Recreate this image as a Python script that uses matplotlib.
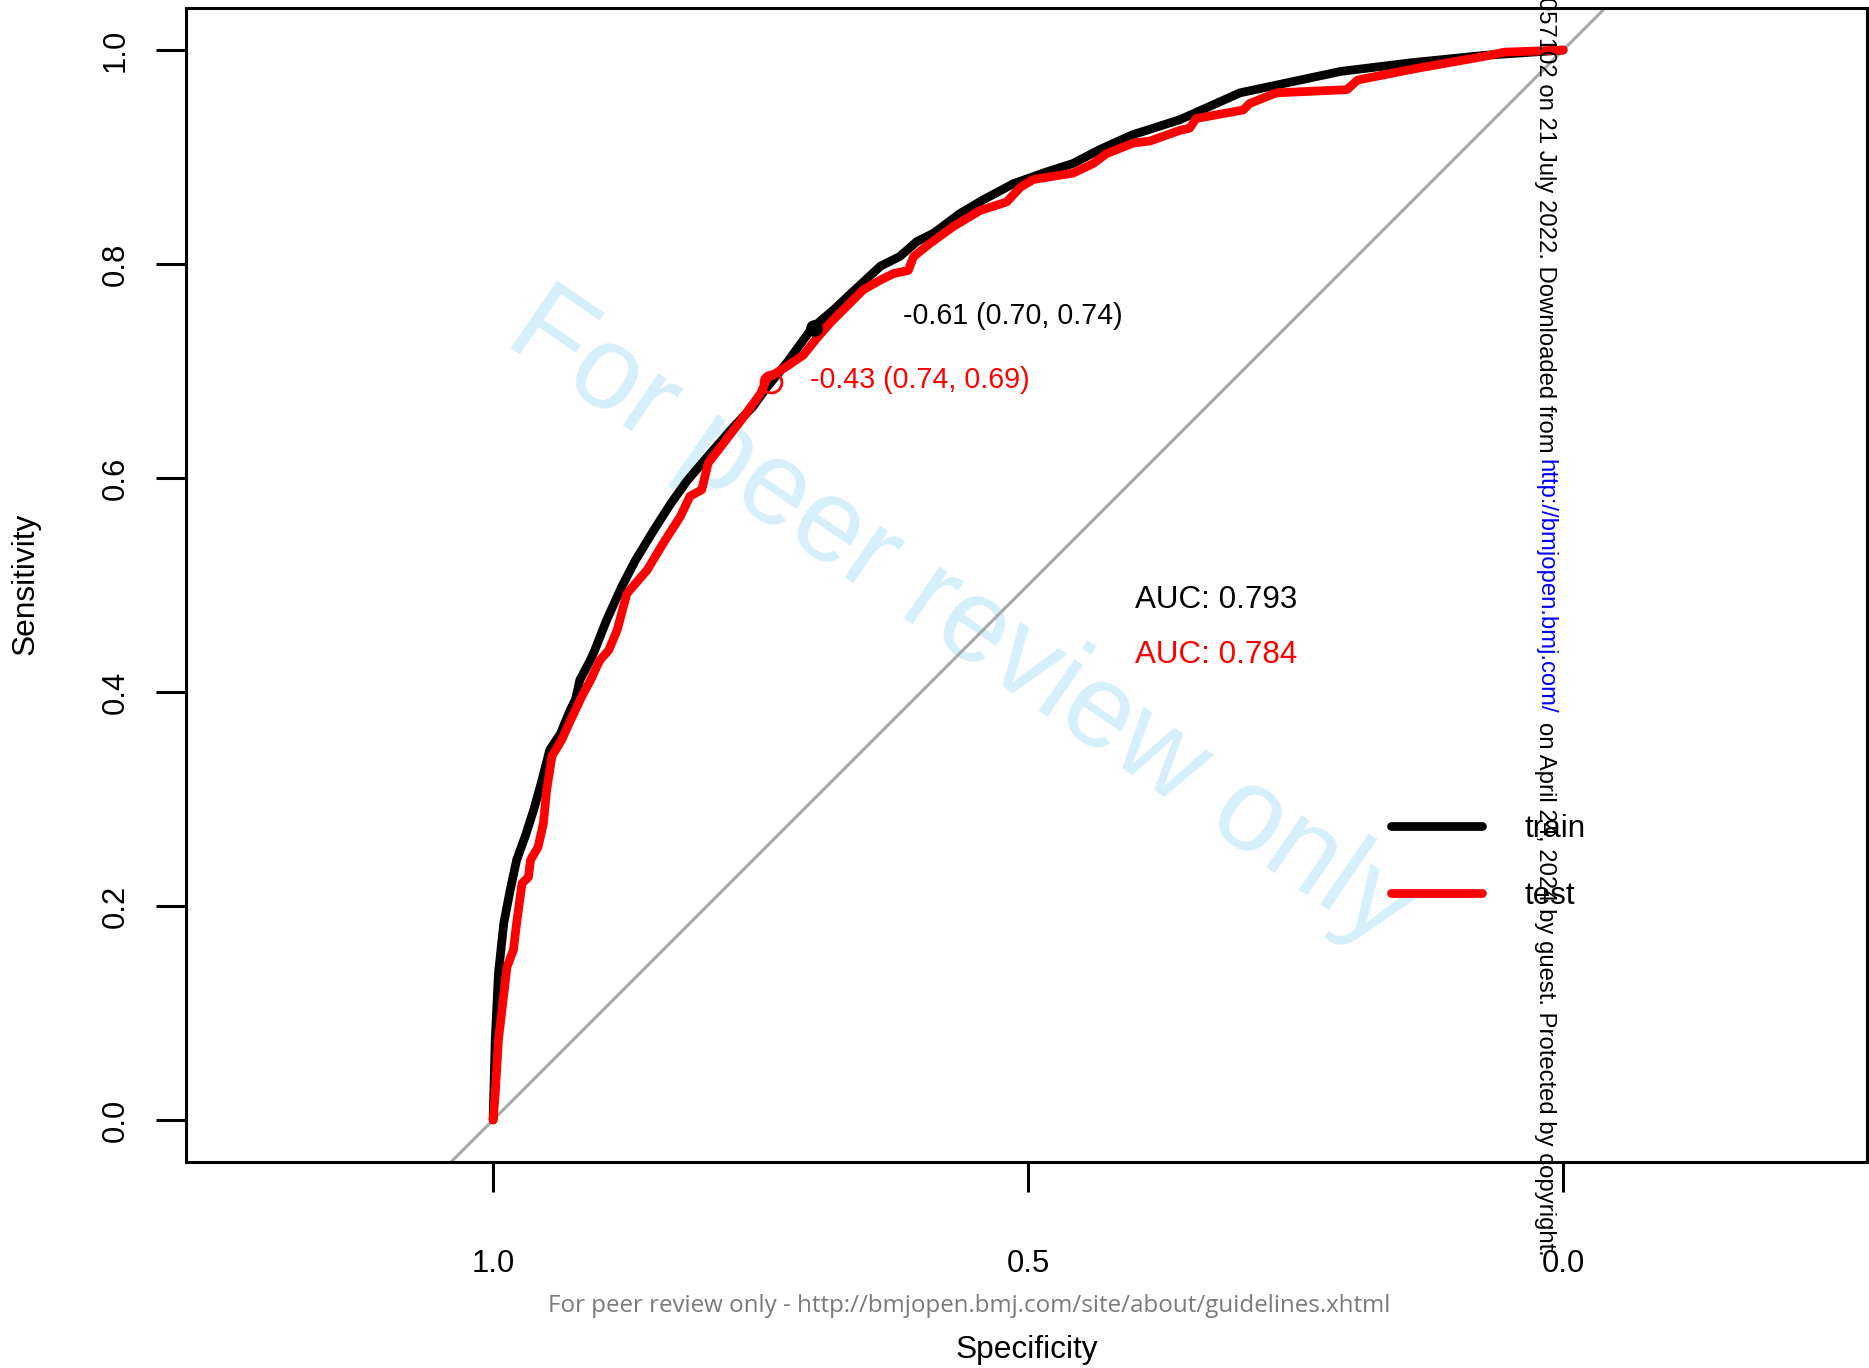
import matplotlib
matplotlib.use("Agg")
import matplotlib.pyplot as plt

plt.rcParams['font.family'] = ['Liberation Sans', 'DejaVu Sans']

# ROC curve of the training set (specificity, sensitivity)
train_spec = [1.000, 0.998, 0.995, 0.990, 0.984, 0.978, 0.970, 0.962, 0.955, 0.947,
              0.937, 0.928, 0.923, 0.919, 0.909, 0.905, 0.894, 0.880, 0.867, 0.850,
              0.834, 0.819, 0.797, 0.775, 0.757, 0.744, 0.726, 0.710, 0.702, 0.682,
              0.665, 0.638, 0.620, 0.604, 0.588, 0.564, 0.542, 0.514, 0.483, 0.458,
              0.433, 0.402, 0.386, 0.358, 0.349, 0.302, 0.255, 0.208, 0.143, 0.074,
              0.000]
train_sens = [0.000, 0.075, 0.137, 0.184, 0.215, 0.243, 0.265, 0.290, 0.315, 0.346,
              0.361, 0.383, 0.393, 0.411, 0.430, 0.439, 0.467, 0.498, 0.523, 0.551,
              0.576, 0.597, 0.623, 0.648, 0.667, 0.685, 0.707, 0.729, 0.740, 0.757,
              0.773, 0.798, 0.807, 0.821, 0.829, 0.847, 0.860, 0.875, 0.886, 0.894,
              0.907, 0.921, 0.926, 0.935, 0.939, 0.960, 0.970, 0.980, 0.988, 0.995,
              1.000]

# ROC curve of the test set (specificity, sensitivity)
test_spec = [1.000, 0.998, 0.995, 0.987, 0.981, 0.978, 0.973, 0.967, 0.965, 0.958,
             0.953, 0.950, 0.945, 0.936, 0.926, 0.917, 0.909, 0.903, 0.900, 0.892,
             0.884, 0.875, 0.856, 0.841, 0.825, 0.816, 0.805, 0.799, 0.782, 0.766,
             0.750, 0.744, 0.726, 0.710, 0.698, 0.685, 0.670, 0.654, 0.638, 0.626,
             0.612, 0.607, 0.592, 0.570, 0.545, 0.520, 0.507, 0.495, 0.458, 0.439,
             0.427, 0.402, 0.386, 0.358, 0.349, 0.343, 0.299, 0.293, 0.268, 0.202,
             0.192, 0.136, 0.074, 0.055, 0.000]
test_sens = [0.000, 0.025, 0.075, 0.143, 0.159, 0.184, 0.221, 0.227, 0.243, 0.255,
             0.277, 0.308, 0.340, 0.355, 0.377, 0.396, 0.411, 0.424, 0.430, 0.439,
             0.458, 0.492, 0.514, 0.539, 0.564, 0.583, 0.589, 0.614, 0.636, 0.657,
             0.679, 0.693, 0.704, 0.715, 0.730, 0.745, 0.760, 0.776, 0.785, 0.791,
             0.794, 0.807, 0.819, 0.835, 0.850, 0.858, 0.872, 0.879, 0.885, 0.894,
             0.903, 0.913, 0.915, 0.925, 0.927, 0.936, 0.944, 0.950, 0.960, 0.963,
             0.972, 0.983, 0.994, 0.998, 1.000]

# Best thresholds: (threshold, specificity, sensitivity)
train_best = (-0.61, 0.70, 0.74)
test_best = (-0.43, 0.74, 0.69)

auc_values = [0.793, 0.784]
series_names = ["train", "test"]
series_colors = ["black", "red"]

xticks = [1.0, 0.5, 0.0]
yticks = [0.0, 0.2, 0.4, 0.6, 0.8, 1.0]

W, H = 1869, 1368
fig = plt.figure(figsize=(W / 100, H / 100), dpi=100)
ax = fig.add_axes([186 / W, 1 - 1162 / H, (1867 - 186) / W, (1162 - 8) / H])
ax.patch.set_alpha(0)

ax.set_xlim(1.287, -0.284)
ax.set_ylim(-0.0393, 1.0393)

# chance line
ax.axline((1, 0), (0, 1), color="#a8a8a8", lw=2.2, zorder=1)

lw_curve = 6.3
ax.plot(train_spec, train_sens, color=series_colors[0], lw=lw_curve,
        solid_capstyle="round", solid_joinstyle="round", zorder=3, label=series_names[0])
ax.plot(test_spec, test_sens, color=series_colors[1], lw=lw_curve,
        solid_capstyle="round", solid_joinstyle="round", zorder=4, label=series_names[1])

# threshold markers and labels
ax.plot([train_best[1]], [train_best[2]], "o", color="black", ms=11, zorder=5)
ax.plot([test_best[1]], [test_best[2]], "o", mfc="none", mec="red", mew=2.0, ms=15, zorder=5)
ax.annotate(f"{train_best[0]:.2f} ({train_best[1]:.2f}, {train_best[2]:.2f})",
            xy=(train_best[1], train_best[2]), xytext=(89, 12), textcoords="offset pixels",
            ha="left", va="center", fontsize=20.6, color="black", zorder=6)
ax.annotate(f"{test_best[0]:.2f} ({test_best[1]:.2f}, {test_best[2]:.2f})",
            xy=(test_best[1], test_best[2]), xytext=(39, 2), textcoords="offset pixels",
            ha="left", va="center", fontsize=20.6, color="red", zorder=6)

# AUC labels
ax.text(0.40, 0.486, f"AUC: {auc_values[0]:.3f}", color=series_colors[0],
        fontsize=22.6, ha="left", va="center", zorder=6)
ax.text(0.40, 0.435, f"AUC: {auc_values[1]:.3f}", color=series_colors[1],
        fontsize=22.6, ha="left", va="center", zorder=6)

# axes styling
for s in ax.spines.values():
    s.set_linewidth(2.2)
ax.set_xticks(xticks)
ax.set_xticklabels([f"{v:.1f}" for v in xticks])
ax.set_yticks(yticks)
ax.set_yticklabels([f"{v:.1f}" for v in yticks], rotation=90, va="center")
ax.tick_params(axis="both", direction="out", length=21.6, width=2.2, labelsize=22.3)
ax.tick_params(axis="x", pad=41)
ax.tick_params(axis="y", pad=18)

ax.set_xlabel("Specificity", fontsize=22.8)
ax.set_ylabel("Sensitivity", fontsize=22.8)
ax.xaxis.set_label_coords(0.5, -0.163)
ax.xaxis.label.set_va("center")
ax.yaxis.set_label_coords(-0.0952, 0.501)
ax.yaxis.label.set_va("center")

leg = ax.legend(loc="upper left", bbox_to_anchor=((1391 - 186) / 1681, (1162 - 814) / 1154),
                frameon=False, fontsize=22.6, handlelength=2.9, handletextpad=1.35,
                labelspacing=1.17, borderpad=0, borderaxespad=0)
for line in leg.get_lines():
    line.set_linewidth(lw_curve)
    line.set_solid_capstyle("round")

# peer-review watermark
ax.text(502 / W, 1 - 342 / H, "For peer review only", transform=fig.transFigure,
        rotation=-34.5, rotation_mode="anchor", ha="left", va="baseline",
        fontsize=85, color="#d5effb", zorder=0.5, clip_on=False)

# footer
fig.text(969 / W, 1 - 1306 / H,
         "For peer review only - http://bmjopen.bmj.com/site/about/guidelines.xhtml",
         ha="center", va="center", fontsize=17.4, color="#7a7a7a", family="Open Sans")

# vertical copyright notice
xv = 1545 / W
fs_v = 17.2
fig.text(xv, 1 - 453 / H,
         "BMJ Open: first published as 10.1136/bmjopen-2021-057102 on 21 July 2022. Downloaded from",
         rotation=-90, rotation_mode="anchor", ha="right", va="center", fontsize=fs_v, color="black")
fig.text(xv, 1 - 459 / H, "http://bmjopen.bmj.com/",
         rotation=-90, rotation_mode="anchor", ha="left", va="center", fontsize=fs_v, color="blue")
fig.text(xv, 1 - 722 / H, "on April 24, 2024 by guest. Protected by copyright.",
         rotation=-90, rotation_mode="anchor", ha="left", va="center", fontsize=fs_v, color="black")

fig.savefig("out.png", dpi=100)
